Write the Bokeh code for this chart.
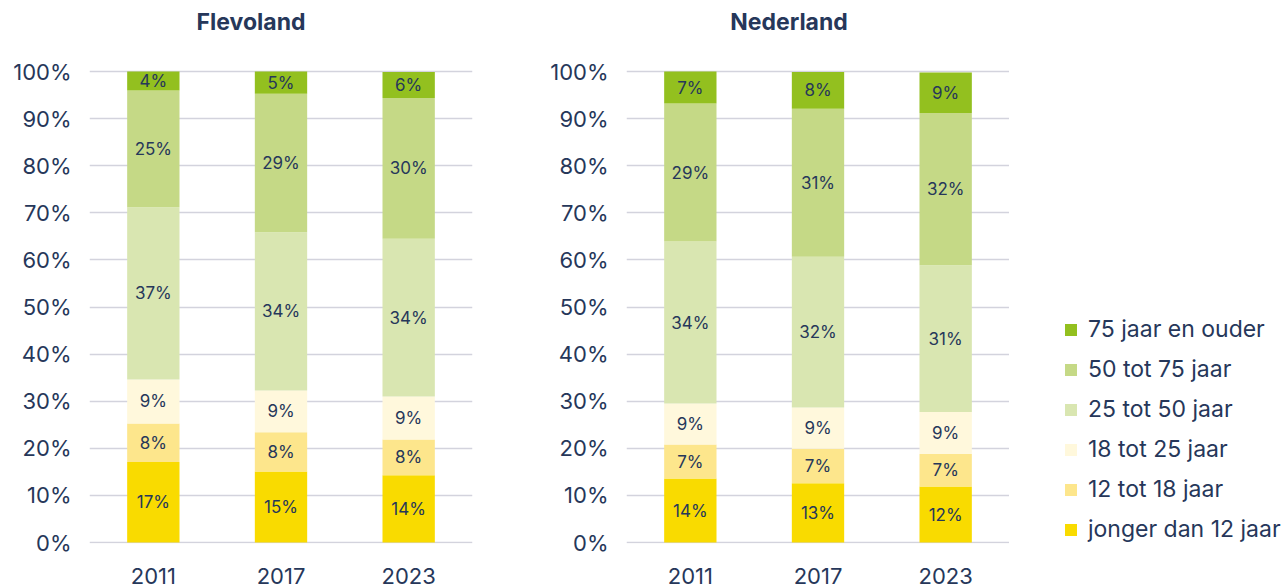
import numpy as np
from bokeh.plotting import figure
from bokeh.models import (ColumnDataSource, Legend, LegendItem, FixedTicker,
                          PrintfTickFormatter, Range1d, FactorRange)
from bokeh.layouts import row
from bokeh.embed import file_html
from bokeh.resources import INLINE
from bokeh.core.properties import value

# ---------------- data ----------------
years = ["2011", "2017", "2023"]
groups = ["jonger dan 12 jaar", "12 tot 18 jaar", "18 tot 25 jaar",
          "25 tot 50 jaar", "50 tot 75 jaar", "75 jaar en ouder"]
colors = ["#F9DB00", "#FDE68C", "#FFF8DC", "#D9E6B1", "#C5D986", "#93C01F"]
y_ticks = [0, 10, 20, 30, 40, 50, 60, 70, 80, 90, 100]

# Flevoland (share in %, per year 2011, 2017, 2023)
flev_lt12 = [17.1, 15.1, 14.3]
flev_12_18 = [8.2, 8.3, 7.6]
flev_18_25 = [9.3, 8.9, 9.1]
flev_25_50 = [36.6, 33.6, 33.5]
flev_50_75 = [24.8, 29.4, 29.9]
flev_75p = [4.0, 4.7, 5.5]

# Nederland
ned_lt12 = [13.6, 12.6, 11.9]
ned_12_18 = [7.2, 7.3, 6.9]
ned_18_25 = [8.7, 8.8, 8.9]
ned_25_50 = [34.4, 32.0, 31.2]
ned_50_75 = [29.3, 31.4, 32.3]
ned_75p = [6.8, 7.8, 8.6]

TEXT = "#26375A"
FONT = "Inter"
H = 588
Y_TOP = 115.09   # room above 100% for the panel title
TITLE_Y = 110.6


def make_panel(title, series, width, mb_left, mb_right, title_dx):
    p = figure(x_range=FactorRange(*years), y_range=Range1d(-0.2, Y_TOP),
               width=width, height=H, output_backend="svg",
               toolbar_location=None,
               min_border_left=mb_left, min_border_right=mb_right,
               min_border_top=0, min_border_bottom=45)
    p.outline_line_color = None
    p.background_fill_color = "white"
    p.border_fill_color = "white"

    data = {"year": years}
    for g, s in zip(groups, series):
        data[g] = s
    src = ColumnDataSource(data)
    p.vbar_stack(groups, x="year", width=0.41, color=colors,
                 source=src, line_color=None)

    # labels at segment centres
    arr = np.array(series)
    tops = np.cumsum(arr, axis=0)
    mids = tops - arr / 2
    lx, ly, lt = [], [], []
    for gi in range(len(groups)):
        for yi, yr in enumerate(years):
            lx.append(yr)
            ly.append(mids[gi, yi])
            lt.append(f"{arr[gi, yi]:.0f}%")
    lsrc = ColumnDataSource(dict(x=lx, y=ly, t=lt))
    p.text(x="x", y="y", text="t", source=lsrc, text_align="center",
           text_baseline="middle", text_font=value(FONT),
           text_font_size="17px", text_color=TEXT)

    # panel title
    tsrc = ColumnDataSource(dict(x=[years[1]], y=[TITLE_Y], t=[title]))
    p.text(x="x", y="y", text="t", source=tsrc, text_align="center",
           text_baseline="middle", x_offset=title_dx, text_font=value(FONT),
           text_font_size="23px", text_font_style="bold", text_color=TEXT)

    p.xgrid.grid_line_color = None
    p.ygrid.grid_line_color = "#D3D3DD"
    p.ygrid.grid_line_width = 1.5
    p.ygrid.ticker = FixedTicker(ticks=y_ticks)

    p.yaxis.ticker = FixedTicker(ticks=y_ticks)
    p.yaxis.formatter = PrintfTickFormatter(format="%d%%")
    for ax in (p.xaxis[0], p.yaxis[0]):
        ax.axis_line_color = None
        ax.major_tick_line_color = None
        ax.minor_tick_line_color = None
        ax.major_tick_out = 0
        ax.major_tick_in = 0
        ax.minor_tick_out = 0
        ax.major_label_text_font = FONT
        ax.major_label_text_font_size = "22px"
        ax.major_label_text_color = TEXT
    p.yaxis.major_label_standoff = 18
    p.xaxis.major_label_standoff = 24
    return p


p1 = make_panel("Flevoland",
                [flev_lt12, flev_12_18, flev_18_25, flev_25_50, flev_50_75, flev_75p],
                536, 89, 64, -30)
ned_series = [ned_lt12, ned_12_18, ned_18_25, ned_25_50, ned_50_75, ned_75p]
p2 = make_panel("Nederland", ned_series, 473, 90, 0, -29)

# legend panel (legend only; its swatches come from hidden bars of the same data)
p3 = figure(x_range=FactorRange(*years), y_range=Range1d(0, 100),
            width=279, height=H, output_backend="svg", toolbar_location=None,
            min_border_left=0, min_border_right=0, min_border_top=0,
            min_border_bottom=0)
p3.axis.visible = False
p3.grid.grid_line_color = None
p3.outline_line_color = None
lsrc3 = ColumnDataSource(dict(year=years, **{g: s for g, s in zip(groups, ned_series)}))
rends = p3.vbar_stack(groups, x="year", width=0.41, color=colors,
                      source=lsrc3, line_color=None)
for r in rends:
    r.visible = False
items = [LegendItem(label=g, renderers=[r]) for g, r in zip(groups, rends)][::-1]
leg = Legend(items=items, location=(54, 0), orientation="vertical",
             glyph_width=15, glyph_height=15, label_standoff=10,
             label_height=20, spacing=12, padding=0, margin=0,
             label_text_font=FONT, label_text_font_size="23px",
             label_text_color=TEXT, border_line_color=None,
             background_fill_alpha=0, inactive_fill_alpha=0)
p3.add_layout(leg, "center")

layout = row(p1, p2, p3)
open("out.html", "w").write(file_html(layout, INLINE))
